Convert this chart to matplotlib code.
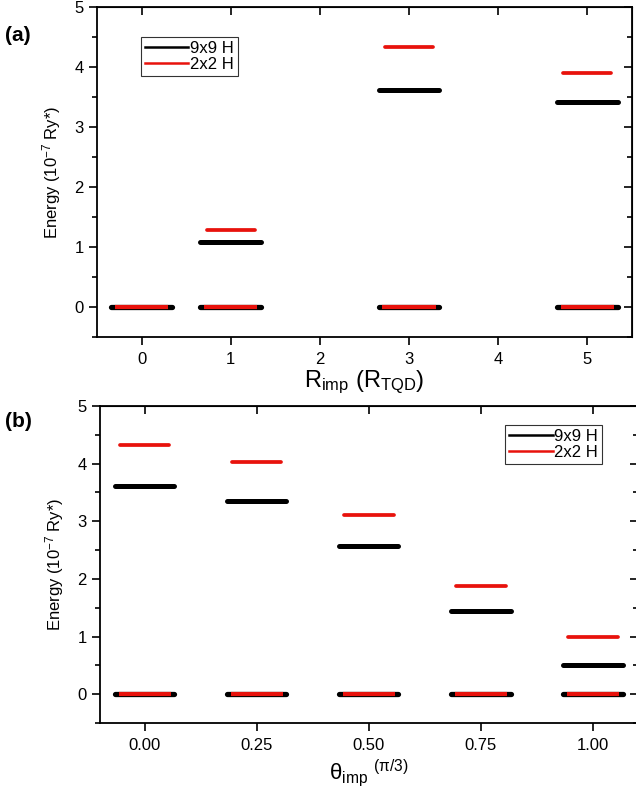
import matplotlib.pyplot as plt
import numpy as np

plt.rcParams['font.family'] = ['Liberation Sans', 'DejaVu Sans']
plt.rcParams['mathtext.fontset'] = 'custom'
plt.rcParams['mathtext.rm'] = 'Liberation Sans'
plt.rcParams['mathtext.it'] = 'Liberation Sans:italic'
plt.rcParams.update({'font.size': 10})

# panel (a): energy levels vs impurity distance
r_imp = [0, 1, 3, 5]
ground_9x9_a = [0, 0, 0, 0]
ground_2x2_a = [0, 0, 0, 0]
excited_9x9_a = [np.nan, 1.08, 3.62, 3.42]
excited_2x2_a = [np.nan, 1.28, 4.33, 3.90]
ticks_a = [0, 1, 2, 3, 4, 5]

# panel (b): energy levels vs impurity angle
theta_imp = [0.00, 0.25, 0.50, 0.75, 1.00]
ground_9x9_b = [0, 0, 0, 0, 0]
ground_2x2_b = [0, 0, 0, 0, 0]
excited_9x9_b = [3.62, 3.35, 2.57, 1.44, 0.50]
excited_2x2_b = [4.33, 4.02, 3.11, 1.87, 1.00]
ticks_b = [0.00, 0.25, 0.50, 0.75, 1.00]

fig = plt.figure(figsize=(6.36, 7.9), dpi=100)
ax1 = fig.add_axes([0.1525, 0.5734, 0.8412, 0.4177])
ax2 = fig.add_axes([0.157, 0.0848, 0.846, 0.4013])

RED = '#e8120c'


def levels(ax, x, g9, g2, e9, e2, w9, w2, w2e):
    x = np.array(x, dtype=float)
    ax.hlines(g9, x - w9, x + w9, color='black', lw=3.8, capstyle='round')
    ax.hlines(g2, x - w2, x + w2, color=RED, lw=3.0, capstyle='butt')
    ax.hlines(e9, x - w9, x + w9, color='black', lw=3.6, capstyle='round')
    ax.hlines(e2, x - w2e, x + w2e, color=RED, lw=2.7, capstyle='round')
    ax.plot([], [], color='black', lw=1.8, label='9x9 H')
    ax.plot([], [], color=RED, lw=1.8, label='2x2 H')


levels(ax1, r_imp, ground_9x9_a, ground_2x2_a, excited_9x9_a, excited_2x2_a,
       0.34, 0.30, 0.27)
levels(ax2, theta_imp, ground_9x9_b, ground_2x2_b, excited_9x9_b, excited_2x2_b,
       0.066, 0.058, 0.055)

ax1.set_xlim(-0.5, 5.5)
ax1.set_xticks(ticks_a)
ax2.set_xlim(-0.1, 1.1)
ax2.set_xticks(ticks_b)
ax2.set_xticklabels([f'{t:.2f}' for t in ticks_b])

for ax in (ax1, ax2):
    ax.set_ylim(-0.5, 5)
    ax.set_yticks([0, 1, 2, 3, 4, 5])
    ax.set_yticks(np.arange(-0.5, 5.01, 0.5), minor=True)
    ax.tick_params(axis='both', which='both', direction='out', width=1.2)
    ax.tick_params(axis='y', which='major', length=6, labelsize=12)
    ax.tick_params(axis='y', which='minor', length=3.5)
    ax.tick_params(axis='x', which='major', length=6, labelsize=12, pad=5)
    ax.tick_params(axis='x', which='minor', bottom=False)
    for s in ax.spines.values():
        s.set_linewidth(1.3)
    ax.set_ylabel(r'Energy (10$^{-7}$ Ry*)', fontsize=12, labelpad=8)
    # inward ticks on top and right
    top = ax.secondary_xaxis('top')
    top.set_xticks(ax.get_xticks())
    top.tick_params(direction='in', length=6, width=1.2, labeltop=False)
    right = ax.secondary_yaxis('right')
    right.set_yticks([0, 1, 2, 3, 4, 5])
    right.set_yticks(np.arange(-0.5, 5.01, 0.5), minor=True)
    right.tick_params(which='major', direction='in', length=6, width=1.2, labelright=False)
    right.tick_params(which='minor', direction='in', length=3.5, width=1.2, labelright=False)

ax1.set_xlabel(r'R$_{\mathrm{imp}}$ (R$_{\mathrm{TQD}}$)', fontsize=17, labelpad=1)
ax2.set_xlabel(r'θ$_{\mathrm{imp}}$ $^{(\mathrm{π}/3)}$', fontsize=16, labelpad=3)

leg_kw = dict(fontsize=12, frameon=True, fancybox=False, edgecolor='black',
              handlelength=2.6, handletextpad=0.1, borderpad=0.25,
              labelspacing=0.05, borderaxespad=0)
l1 = ax1.legend(loc='upper left', bbox_to_anchor=(0.082, 0.909), **leg_kw)
l2 = ax2.legend(loc='upper left', bbox_to_anchor=(0.753, 0.940), **leg_kw)
for l in (l1, l2):
    l.get_frame().set_linewidth(0.8)

fig.text(0.008, 0.955, '(a)', fontsize=15, fontweight='bold', va='center')
fig.text(0.008, 0.466, '(b)', fontsize=15, fontweight='bold', va='center')

plt.savefig('out.png', dpi=100)
